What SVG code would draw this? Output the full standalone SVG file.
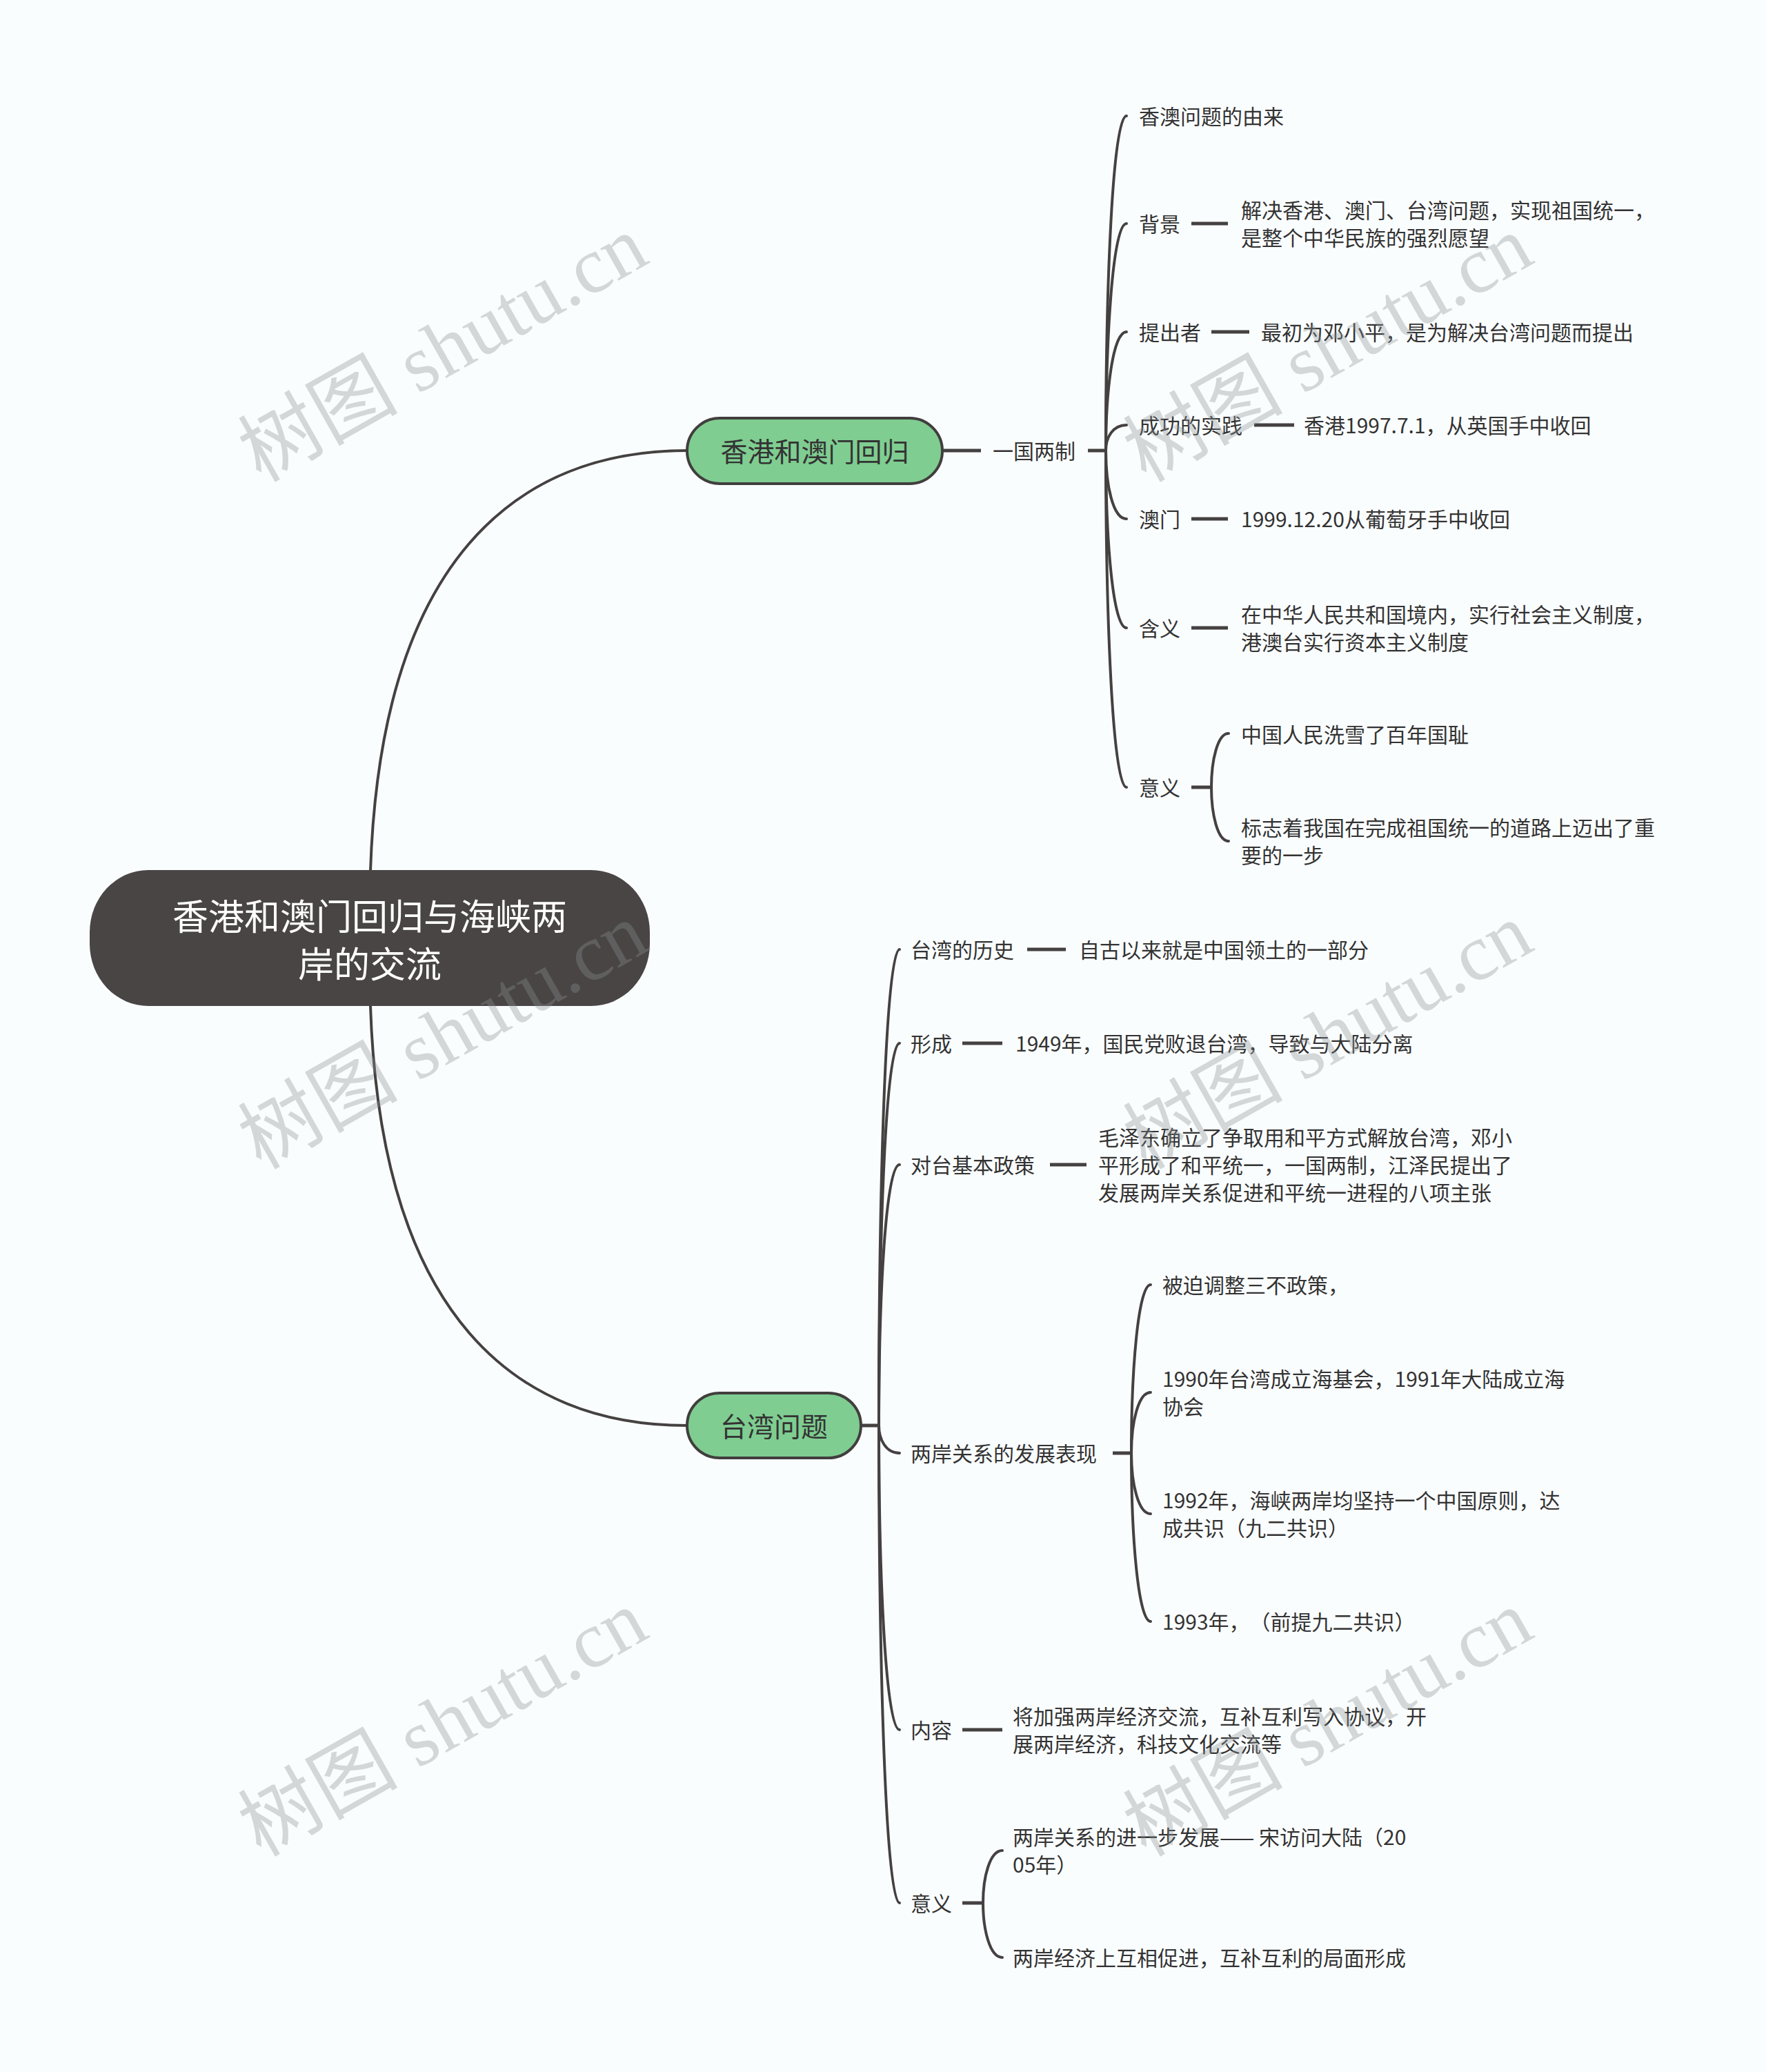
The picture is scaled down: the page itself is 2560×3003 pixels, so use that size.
<svg xmlns="http://www.w3.org/2000/svg" width="2560" height="3003" viewBox="0 0 2560 3003">
<style>
.ln{fill:none;stroke:#454141;stroke-width:4;stroke-linecap:round}
.lf{fill:none;stroke:#454141;stroke-width:5}
.t{font-family:"Noto Sans CJK SC","Noto Sans",sans-serif;font-size:30px;fill:#333;dominant-baseline:central;text-spacing-trim:space-all}
.br{fill:#7fcd91;stroke:#413e3e;stroke-width:4}
.bt{font-family:"Noto Sans CJK SC","Noto Sans",sans-serif;font-size:39px;fill:#333;text-anchor:middle;dominant-baseline:central}
.rt{font-family:"Noto Sans CJK SC","Noto Sans",sans-serif;font-size:52px;fill:#fff;text-anchor:middle;dominant-baseline:central}
.wm{font-family:"Liberation Serif","Noto Sans CJK SC",serif;font-size:116px;fill:#8a9093;fill-opacity:0.35}
</style>
<rect x="0" y="0" width="2560" height="3003" fill="#fafdfe"/>
<g id="connectors">
<path class="ln" d="M537,1262 C552,810 750,653 996,653"/>
<path class="ln" d="M537,1458 C552,1910 750,2066 996,2066"/>
<path class="lf" d="M1366,653 L1422,653"/>
<path class="lf" d="M1577,653 L1603,653"/>
<path class="ln" d="M1603,653 C1603,410 1613,168 1633,168"/>
<path class="ln" d="M1603,653 C1603,488 1613,324 1633,324"/>
<path class="ln" d="M1603,653 C1603,567 1613,481 1633,481"/>
<path class="ln" d="M1603,653 C1603,634 1613,616 1633,616"/>
<path class="ln" d="M1603,653 C1603,702 1613,752 1633,752"/>
<path class="ln" d="M1603,653 C1603,781 1613,910 1633,910"/>
<path class="ln" d="M1603,653 C1603,897 1613,1141 1633,1141"/>
<path class="lf" d="M1727,324 L1780,324"/>
<path class="lf" d="M1756,481 L1811,481"/>
<path class="lf" d="M1818,616 L1876,616"/>
<path class="lf" d="M1727,752 L1780,752"/>
<path class="lf" d="M1727,910 L1780,910"/>
<path class="lf" d="M1727,1141 L1756,1141"/>
<path class="ln" d="M1756,1141 C1756,1102 1765,1063 1781,1063"/>
<path class="ln" d="M1756,1141 C1756,1180 1765,1219 1781,1219"/>
<path class="lf" d="M1248,2066 L1274,2066"/>
<path class="ln" d="M1274,2066 C1274,1721 1284,1376 1304,1376"/>
<path class="ln" d="M1274,2066 C1274,1789 1284,1512 1304,1512"/>
<path class="ln" d="M1274,2066 C1274,1877 1284,1688 1304,1688"/>
<path class="ln" d="M1274,2066 C1274,2086 1284,2106 1304,2106"/>
<path class="ln" d="M1274,2066 C1274,2286 1284,2507 1304,2507"/>
<path class="ln" d="M1274,2066 C1274,2412 1284,2758 1304,2758"/>
<path class="lf" d="M1489,1376 L1545,1376"/>
<path class="lf" d="M1395,1512 L1453,1512"/>
<path class="lf" d="M1522,1688 L1575,1688"/>
<path class="lf" d="M1613,2106 L1640,2106"/>
<path class="ln" d="M1640,2106 C1640,1984 1650,1862 1668,1862"/>
<path class="ln" d="M1640,2106 C1640,2062 1650,2018 1668,2018"/>
<path class="ln" d="M1640,2106 C1640,2150 1650,2194 1668,2194"/>
<path class="ln" d="M1640,2106 C1640,2228 1650,2350 1668,2350"/>
<path class="lf" d="M1395,2507 L1453,2507"/>
<path class="lf" d="M1395,2758 L1425,2758"/>
<path class="ln" d="M1425,2758 C1425,2720 1435,2682 1453,2682"/>
<path class="ln" d="M1425,2758 C1425,2797 1435,2837 1453,2837"/>
</g>
<g id="root">
<rect x="130" y="1261" width="812" height="197" rx="85" ry="90" fill="#4a4545"/>
<text class="rt"><tspan x="536" y="1325">香港和澳门回归与海峡两</tspan><tspan x="536" y="1394">岸的交流</tspan></text>
</g>
<g id="n-hk">
<rect class="br" x="996" y="606" width="370" height="95" rx="47.5"/>
<text class="bt" x="1181" y="652">香港和澳门回归</text>
</g>
<g id="n-tw">
<rect class="br" x="996" y="2019" width="252" height="94" rx="47"/>
<text class="bt" x="1122" y="2065">台湾问题</text>
</g>
<g id="n-yiguo"><text class="t" x="1439" y="652">一国两制</text></g>
<g id="n-youlai"><text class="t" x="1651" y="167">香澳问题的由来</text></g>
<g id="n-beijing"><text class="t" x="1651" y="323">背景</text></g>
<g id="n-beijing-l"><text class="t"><tspan x="1799" y="303">解决香港、澳门、台湾问题，实现祖国统一，</tspan><tspan x="1799" y="343">是整个中华民族的强烈愿望</tspan></text></g>
<g id="n-tichu"><text class="t" x="1651" y="480">提出者</text></g>
<g id="n-tichu-l"><text class="t" x="1828" y="480">最初为邓小平，是为解决台湾问题而提出</text></g>
<g id="n-shijian"><text class="t" x="1651" y="615">成功的实践</text></g>
<g id="n-shijian-l"><text class="t" x="1890" y="615">香港1997.7.1，从英国手中收回</text></g>
<g id="n-aomen"><text class="t" x="1651" y="751">澳门</text></g>
<g id="n-aomen-l"><text class="t" x="1799" y="751">1999.12.20从葡萄牙手中收回</text></g>
<g id="n-hanyi"><text class="t" x="1651" y="909">含义</text></g>
<g id="n-hanyi-l"><text class="t"><tspan x="1799" y="889">在中华人民共和国境内，实行社会主义制度，</tspan><tspan x="1799" y="929">港澳台实行资本主义制度</tspan></text></g>
<g id="n-yiyi1"><text class="t" x="1651" y="1140">意义</text></g>
<g id="n-yiyi1-a"><text class="t" x="1799" y="1063">中国人民洗雪了百年国耻</text></g>
<g id="n-yiyi1-b"><text class="t"><tspan x="1799" y="1198">标志着我国在完成祖国统一的道路上迈出了重</tspan><tspan x="1799" y="1238">要的一步</tspan></text></g>
<g id="n-lishi"><text class="t" x="1320" y="1375">台湾的历史</text></g>
<g id="n-lishi-l"><text class="t" x="1564" y="1375">自古以来就是中国领土的一部分</text></g>
<g id="n-xingcheng"><text class="t" x="1320" y="1511">形成</text></g>
<g id="n-xingcheng-l"><text class="t" x="1472" y="1511">1949年，国民党败退台湾，导致与大陆分离</text></g>
<g id="n-zhengce"><text class="t" x="1320" y="1687">对台基本政策</text></g>
<g id="n-zhengce-l"><text class="t"><tspan x="1592" y="1647">毛泽东确立了争取用和平方式解放台湾，邓小</tspan><tspan x="1592" y="1687">平形成了和平统一，一国两制，江泽民提出了</tspan><tspan x="1592" y="1727">发展两岸关系促进和平统一进程的八项主张</tspan></text></g>
<g id="n-fazhan"><text class="t" x="1320" y="2105">两岸关系的发展表现</text></g>
<g id="n-fazhan-a"><text class="t" x="1685" y="1861">被迫调整三不政策，</text></g>
<g id="n-fazhan-b"><text class="t"><tspan x="1685" y="1997">1990年台湾成立海基会，1991年大陆成立海</tspan><tspan x="1685" y="2037">协会</tspan></text></g>
<g id="n-fazhan-c"><text class="t"><tspan x="1685" y="2173">1992年，海峡两岸均坚持一个中国原则，达</tspan><tspan x="1685" y="2213">成共识（九二共识）</tspan></text></g>
<g id="n-fazhan-d"><text class="t" x="1685" y="2349">1993年，（前提九二共识）</text></g>
<g id="n-neirong"><text class="t" x="1320" y="2506">内容</text></g>
<g id="n-neirong-l"><text class="t"><tspan x="1468" y="2486">将加强两岸经济交流，互补互利写入协议，开</tspan><tspan x="1468" y="2526">展两岸经济，科技文化交流等</tspan></text></g>
<g id="n-yiyi2"><text class="t" x="1320" y="2757">意义</text></g>
<g id="n-yiyi2-a"><text class="t"><tspan x="1468" y="2661">两岸关系的进一步发展—— 宋访问大陆（20</tspan><tspan x="1468" y="2701">05年）</tspan></text></g>
<g id="n-yiyi2-b"><text class="t" x="1468" y="2836">两岸经济上互相促进，互补互利的局面形成</text></g>
<g id="watermarks">
<text class="wm" transform="translate(378,700) rotate(-29.5)">树图 shutu.cn</text>
<text class="wm" transform="translate(1661,700) rotate(-29.5)">树图 shutu.cn</text>
<text class="wm" transform="translate(378,1696) rotate(-29.5)">树图 shutu.cn</text>
<text class="wm" transform="translate(1661,1696) rotate(-29.5)">树图 shutu.cn</text>
<text class="wm" transform="translate(378,2692) rotate(-29.5)">树图 shutu.cn</text>
<text class="wm" transform="translate(1661,2692) rotate(-29.5)">树图 shutu.cn</text>
</g>
</svg>
